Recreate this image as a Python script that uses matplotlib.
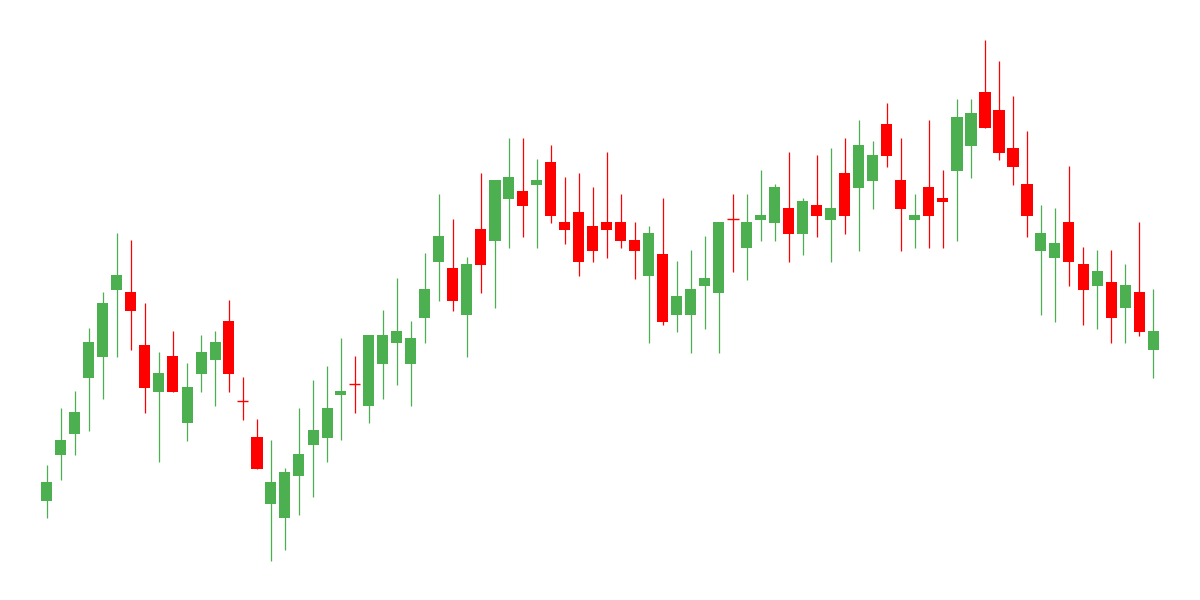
import numpy as np
import matplotlib
matplotlib.use('agg')
import matplotlib.pyplot as plt

# OHLC values
opens = [99, 145, 166, 222, 243, 310, 308, 255, 208, 244,
         177, 226, 240, 279, 199, 163, 96, 82, 124, 155,
         162, 205, 216, 194, 236, 257, 236, 282, 338, 332,
         285, 371, 359, 401, 409, 415, 438, 378, 388, 374,
         378, 378, 360, 324, 346, 285, 285, 314, 307, 381,
         352, 380, 377, 392, 366, 395, 380, 427, 412, 419,
         476, 420, 380, 413, 402, 429, 454, 508, 490, 452,
         416, 349, 342, 378, 336, 314, 318, 292, 308, 250]
highs = [135, 192, 209, 272, 308, 367, 360, 297, 248, 269,
         237, 265, 269, 300, 223, 181, 160, 132, 192, 220,
         234, 262, 244, 265, 290, 322, 279, 347, 406, 381,
         343, 427, 420, 462, 462, 441, 455, 423, 427, 413,
         448, 406, 378, 374, 402, 339, 350, 364, 378, 406,
         406, 430, 416, 448, 402, 445, 452, 462, 480, 459,
         497, 462, 406, 480, 430, 501, 501, 560, 539, 504,
         469, 395, 392, 434, 353, 350, 350, 336, 378, 311]
lows = [82, 120, 145, 169, 201, 243, 250, 187, 138, 208,
        159, 208, 194, 208, 180, 131, 39, 50, 85, 103,
        138, 160, 187, 177, 201, 215, 194, 257, 299, 289,
        243, 307, 292, 352, 363, 352, 377, 356, 324, 338,
        342, 352, 321, 257, 275, 268, 247, 271, 247, 328,
        320, 359, 359, 338, 345, 363, 338, 366, 349, 391,
        433, 349, 352, 352, 352, 359, 422, 472, 440, 415,
        363, 285, 278, 314, 275, 271, 257, 257, 264, 222]
closes = [118, 160, 188, 258, 297, 325, 289, 212, 227, 208,
          213, 248, 258, 226, 199, 131, 118, 128, 146, 170,
          192, 209, 216, 265, 265, 269, 262, 311, 364, 299,
          336, 335, 420, 423, 394, 420, 384, 370, 338, 349,
          370, 359, 349, 367, 278, 304, 311, 322, 378, 381,
          378, 385, 413, 366, 399, 384, 392, 384, 455, 445,
          444, 391, 385, 384, 398, 483, 487, 472, 447, 433,
          384, 367, 357, 338, 310, 329, 282, 315, 268, 269]

GREEN = '#4caf50'
RED = '#ff0000'


def plot_candles(ax, o, h, l, c):
	o = np.array(o)
	h = np.array(h)
	l = np.array(l)
	c = np.array(c)
	x = np.arange(len(o))
	colors = np.where(c > o, GREEN, RED)
	width = 11 / 14

	ax.vlines(x, l, h, colors=colors, linewidth=0.9)
	body = np.abs(c - o)
	ax.bar(x, body, bottom=np.minimum(o, c), width=width, color=colors,
		linewidth=0)
	doji = body == 0
	ax.hlines(o[doji], x[doji] - width / 2, x[doji] + width / 2,
		colors=colors[doji], linewidth=1.0)


def main():
	fig = plt.figure(figsize=(12, 6), dpi=100)
	ax = fig.add_axes([0, 0, 1, 1])
	plot_candles(ax, opens, highs, lows, closes)
	ax.set_xlim(-47 / 14, (1200 - 47) / 14)
	ax.set_ylim(0, 600)
	ax.axis('off')
	fig.savefig('out.png', dpi=100, facecolor='white')


if __name__ == "__main__":
	main()
